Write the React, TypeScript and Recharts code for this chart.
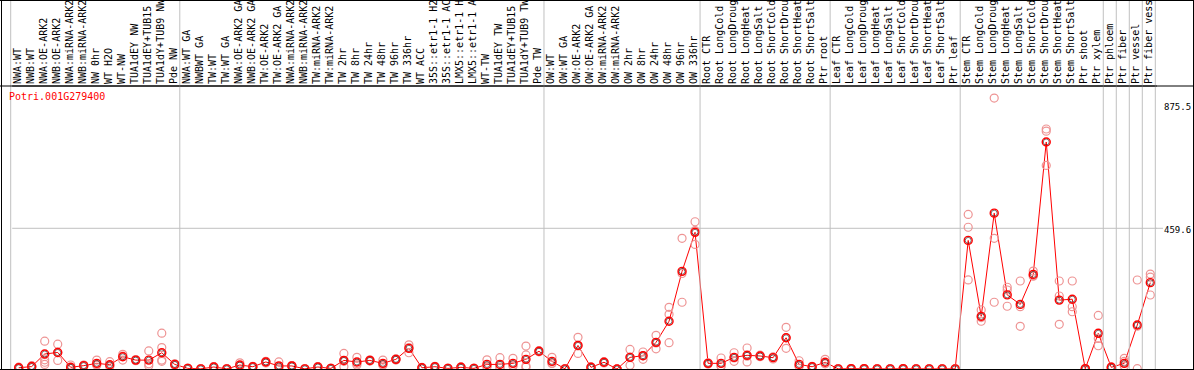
import React from 'react';
import { ComposedChart, Line, XAxis, YAxis, ReferenceLine } from 'recharts';

const categories = [
  'NWA:WT', 'NWB:WT', 'NWA:OE-ARK2', 'NWB:OE-ARK2', 'NWA:miRNA-ARK2', 'NWB:miRNA-ARK2', 'NW 0hr', 'WT H2O', 'WT-NW',
  'TUA1dEY NW', 'TUA1dEY+TUB15 NW', 'TUA1dY+TUB9 NW', 'Pde NW',
  'NWA:WT GA', 'NWBWT GA', 'TW:WT', 'TW:WT GA', 'NWA:OE-ARK2 GA', 'NWB:OE-ARK2 GA', 'TW:OE-ARK2', 'TW:OE-ARK2 GA',
  'NWA:miRNA-ARK2 GA', 'NWB:miRNA-ARK2 GA', 'TW:miRNA-ARK2', 'TW:miRNA-ARK2 GA', 'TW 2hr', 'TW 8hr', 'TW 24hr', 'TW 48hr',
  'TW 96hr', 'TW 336hr', 'WT ACC', '35S::etr1-1 H2O', '35S::etr1-1 ACC', 'LMX5::etr1-1 H2O', 'LMX5::etr1-1 ACC', 'WT-TW',
  'TUA1dEY TW', 'TUA1dEY+TUB15 TW', 'TUA1dY+TUB9 TW', 'Pde TW',
  'OW:WT', 'OW:WT GA', 'OW:OE-ARK2', 'OW:OE-ARK2 GA', 'OW:miRNA-ARK2', 'OW:miRNA-ARK2 GA', 'OW 2hr', 'OW 8hr', 'OW 24hr',
  'OW 48hr', 'OW 96hr', 'OW 336hr',
  'Root CTR', 'Root LongCold', 'Root LongDrought', 'Root LongHeat', 'Root LongSalt', 'Root ShortCold', 'Root ShortDrought',
  'Root ShortHeat', 'Root ShortSalt', 'Ptr root',
  'Leaf CTR', 'Leaf LongCold', 'Leaf LongDrought', 'Leaf LongHeat', 'Leaf LongSalt', 'Leaf ShortCold', 'Leaf ShortDrought',
  'Leaf ShortHeat', 'Leaf ShortSalt', 'Ptr leaf',
  'Stem CTR', 'Stem LongCold', 'Stem LongDrought', 'Stem LongHeat', 'Stem LongSalt', 'Stem ShortCold', 'Stem ShortDrought',
  'Stem ShortHeat', 'Stem ShortSalt', 'Ptr shoot', 'Ptr xylem',
  'Ptr phloem', 'Ptr fiber', 'Ptr vessel', 'Ptr fiber vessel',
];

const meanValues = [
  4, 8, 49, 54, 5.5, 11, 18.5, 14, 40, 29, 29, 53, 15,
  2, 0.5, 6.5, 0.5, 13, 7.5, 23, 10, 10, 0.5, 6.5, 2, 28, 23, 28, 18.5, 31.6, 67.5, 4, 7.5, 2, 5.5, 2, 15, 15, 18.5, 31.6, 58,
  25, 0.5, 77, 5.5, 22, 0, 38, 43.5, 87, 156, 319, 446.5,
  18.5, 18.5, 38, 44.7, 42.5, 37, 102, 15, 7.5, 22,
  0.5, 1, 1, 0.5, 0.5, 1, 0.5, 0.5, 0.5, 0.5,
  420, 172, 509, 242, 211, 309, 741.5, 225, 228, 1, 116.6,
  5.5, 18.5, 143.7, 282,
];

const rep1 = [
  2, 5, 91, 81, 13, 9, 29, 24, 48, 27, 59, 117, 12,
  1, 0, 5, 0, 20, 6, 20, 23, 8, 0, 5, 1, 51, 38, 26, 29, 29, 79, 3, 6, 1, 4, 1, 30, 37, 35, 75, 56,
  38, 0, 103.5, 4, 20, 0, 64, 55.5, 110, 201.5, 427, 481,
  16, 36, 53, 68.6, 40, 33, 136, 27, 6, 31.6,
  0.5, 1, 1, 0.5, 0.5, 1, 0.5, 0.5, 0.5, 0.5,
  505, 193, 885, 267, 287.5, 320, 784, 287.5, 287.5, 0.5, 175,
  3, 35, 290.7, 310,
];

const rep2 = [
  5, 8, 22, 28, 2, 12, 14, 10, 29, 31, 11, 70, 17,
  2, 1, 7, 1, 10, 8, 24, 4, 11, 1, 7, 2, 8, 13, 30, 14, 33, 53, 4, 8, 2, 6, 2, 8, 5, 12, 46, 60,
  18, 1, 51, 6, 24, 0, 12, 31.6, 66, 178.7, 218, 407,
  20, 10, 25, 23, 45, 40, 67.5, 9, 8, 17,
  0, 0.5, 0.5, 0, 0, 0.5, 0, 0, 0, 0,
  463, 156, 427, 258, 203.5, 303, 777, 238.5, 203.5, 1, 76,
  7, 25, 1, 300,
];

const rep3 = [
  6, 11, 15, 54, 3, 13, 12, 8, 42, 29, 17, 29, 16,
  3, 0.5, 8, 0.5, 9, 9, 25, 3, 11, 0.5, 8, 3, 25, 18, 28, 12, 33, 70, 5, 9, 3, 7, 3, 7, 3, 9, 10, 58,
  19, 0.5, 76, 7, 22, 0, 38, 43, 85, 86, 312, 452,
  19, 9, 36, 42, 43, 38, 102, 9, 9, 18,
  1, 1.5, 1.5, 1, 1, 1.5, 1, 1, 1, 1,
  291, 168, 218, 205, 139.5, 305, 665, 146, 187, 1.5, 100,
  6, 10, 140, 241.7,
];

const rep4 = [
  null, null, 30, null, null, null, null, null, null, null, null, 25, null,
  null, null, null, null, null, null, null, null, null, null, null, null, null, null, null, null, null, null, null, null, null, null, null, null, null, null, 6, null,
  null, null, null, null, null, null, null, null, null, null, null, null,
  null, null, null, null, null, null, null, null, null, null,
  null, null, null, null, null, null, null, null, null, null,
  null, null, null, null, null, null, null, null, null, null, null,
  null, null, null, null,
];

const groupStarts = [0, 13, 41, 53, 63, 73, 84, 85, 86, 87];
const yTicks = [0, 459.6, 875.5];
const gridValue = 459.6;
const yMax = 924.4;
const geneId = 'Potri.001G279400';

const data = categories.map((name, i) => ({
  name,
  mean: meanValues[i],
  r1: rep1[i],
  r2: rep2[i],
  r3: rep3[i],
  r4: rep4[i],
}));

const W = 1194;
const H = 370;
const SHIFT = 1.5;
const PLOT_LEFT = 10.7 + SHIFT;
const PLOT_W = 1144.6;
const BW = PLOT_W / categories.length;
const GRID = '#c0c0c0';
const MONO = '"DejaVu Sans Mono", "Liberation Mono", monospace';

const XTick = (props: any) => {
  const { x, payload, index } = props;
  const left = x - BW / 2 - SHIFT;
  return (
    <g>
      {groupStarts.includes(index) && (
        <line x1={left} x2={left} y1={0} y2={369} stroke={GRID} strokeWidth={1} />
      )}
      {index === categories.length - 1 && (
        <line x1={left + BW} x2={left + BW} y1={0} y2={369} stroke={GRID} strokeWidth={1} />
      )}
      <text
        transform={`translate(${x + 2},${84}) rotate(-90)`}
        fontFamily={MONO}
        fontSize={10}
        fill="#000"
        textAnchor="start"
      >
        {payload.value}
      </text>
    </g>
  );
};

const YTick = (props: any) => {
  const { y, payload } = props;
  const v = payload.value;
  const dy = v === 0 ? -3.5 : v === 875.5 ? 9.5 : 5.2;
  return (
    <g>
      {v === gridValue && (
        <line x1={PLOT_LEFT + PLOT_W - SHIFT} x2={1163} y1={y} y2={y} stroke={GRID} strokeWidth={1} />
      )}
      <text x={1164} y={y + dy} fontFamily={MONO} fontSize={9} fill="#000">
        {String(v)}
      </text>
    </g>
  );
};

const MeanDot = (props: any) => {
  const { cx, cy, index } = props;
  if (cx == null || cy == null) return <g key={`m${index}`} />;
  return (
    <g key={`m${index}`}>
      <circle cx={cx} cy={cy} r={3} fill="none" stroke="#000" strokeWidth={0.8} strokeOpacity={0.7} />
      <circle cx={cx} cy={cy} r={4} fill="none" stroke="#ff0000" strokeWidth={1.4} />
    </g>
  );
};

const makeRepDot = (tag: string) => (props: any) => {
  const { cx, cy, index, value } = props;
  if (cx == null || cy == null || value == null) return <g key={`${tag}${index}`} />;
  return (
    <circle key={`${tag}${index}`} cx={cx} cy={cy} r={4} fill="none" stroke="#ee9494" strokeWidth={1.2} />
  );
};

export default function App() {
  return (
    <div style={{ position: 'absolute', left: 0, top: 0, width: W, height: H, background: '#fff' }}>
      <ComposedChart
        width={W}
        height={H}
        data={data}
        margin={{ top: 0, right: 0, bottom: 1, left: PLOT_LEFT }}
      >
        <XAxis
          dataKey="name"
          orientation="top"
          height={86}
          interval={0}
          tickLine={false}
          padding={{ left: BW / 2, right: BW / 2 }}
          axisLine={{ stroke: '#000' }}
          tick={<XTick />}
        />
        <YAxis
          orientation="right"
          width={W - PLOT_LEFT - PLOT_W}
          domain={[0, yMax]}
          ticks={yTicks}
          axisLine={false}
          tickLine={false}
          tick={<YTick />}
          allowDataOverflow
        />
        <ReferenceLine y={gridValue} stroke={GRID} strokeWidth={1} />
        <Line dataKey="r1" stroke="none" dot={makeRepDot('a')} activeDot={false} isAnimationActive={false} />
        <Line dataKey="r2" stroke="none" dot={makeRepDot('b')} activeDot={false} isAnimationActive={false} />
        <Line dataKey="r3" stroke="none" dot={makeRepDot('c')} activeDot={false} isAnimationActive={false} />
        <Line dataKey="r4" stroke="none" dot={makeRepDot('d')} activeDot={false} isAnimationActive={false} />
        <Line
          dataKey="mean"
          type="linear"
          stroke="#ff0000"
          strokeWidth={1}
          dot={MeanDot}
          activeDot={false}
          isAnimationActive={false}
        />
      </ComposedChart>
      <svg
        width={W}
        height={H}
        style={{ position: 'absolute', left: 0, top: 0, pointerEvents: 'none' }}
      >
        <line x1={0} x2={W} y1={0.5} y2={0.5} stroke="#000" strokeWidth={1} />
        <line x1={0} x2={W} y1={86} y2={86} stroke="#000" strokeWidth={1} />
        <line x1={0} x2={W} y1={369.5} y2={369.5} stroke="#000" strokeWidth={1} />
        <line x1={1.5} x2={1.5} y1={0} y2={H} stroke="#000" strokeWidth={1} />
        <line x1={1193.5} x2={1193.5} y1={0} y2={H} stroke="#000" strokeWidth={1} />
        <text x={9} y={100} fontFamily={MONO} fontSize={10} fill="#ff0000">
          {geneId}
        </text>
      </svg>
    </div>
  );
}
